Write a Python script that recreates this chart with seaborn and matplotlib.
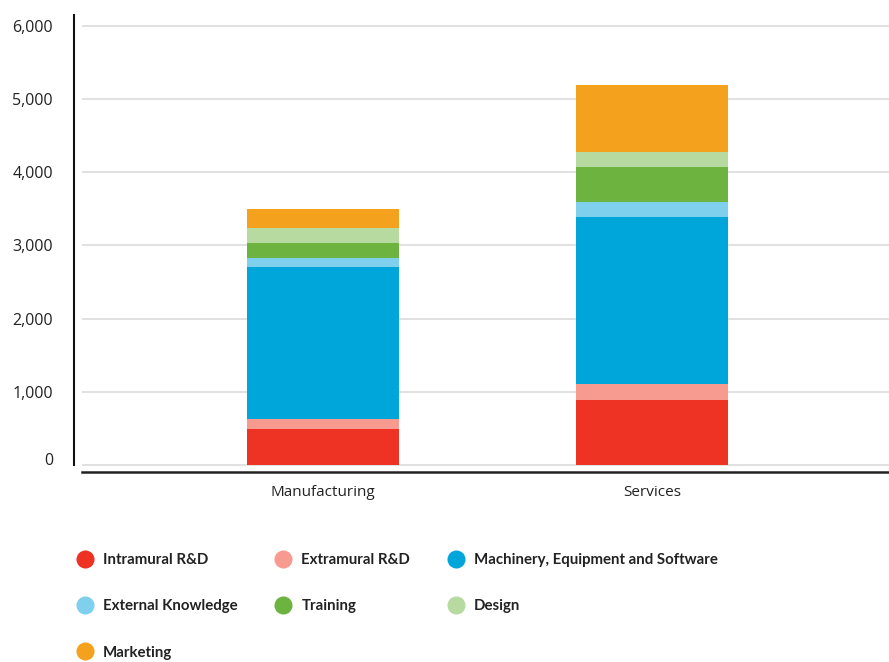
import matplotlib
matplotlib.use("Agg")
import matplotlib.pyplot as plt
from matplotlib.lines import Line2D
import numpy as np
import pandas as pd
import seaborn as sns

# Innovation expenditure by sector, stacked by type of activity
categories = ["Manufacturing", "Services"]
series_names = [
    "Intramural R&D",
    "Extramural R&D",
    "Machinery, Equipment and Software",
    "External Knowledge",
    "Training",
    "Design",
    "Marketing",
]
intramural = [490, 890]
extramural = [135, 220]
machinery = [2075, 2280]
external_knowledge = [125, 205]
training = [205, 480]
design = [205, 205]
marketing = [260, 915]
y_ticks = [0, 1000, 2000, 3000, 4000, 5000, 6000]

colors = ["#EE3224", "#F79B91", "#00A6DA", "#7FD0EC", "#6CB33F", "#B6DAA0", "#F4A11D"]

values = [intramural, extramural, machinery, external_knowledge, training, design, marketing]
df = pd.DataFrame(np.array(values).T, columns=series_names)
df["Sector"] = categories
cum = df[series_names].cumsum(axis=1)

sns.set_theme(style="white")
plt.rcParams["font.family"] = ["Open Sans", "DejaVu Sans"]

fig = plt.figure(figsize=(8.89, 6.62), dpi=100)
ax = fig.add_axes([82 / 889, 1 - 472 / 662, 1 - 82 / 889, (472 - 15) / 662])

# layered cumulative bars, top segment first so lower ones sit over it
for name, color in reversed(list(zip(series_names, colors))):
    sns.barplot(x=df["Sector"], y=cum[name], color=color, saturation=1,
                width=0.462, ax=ax, zorder=3, linewidth=0)

ax.set_xlim(-0.733, 1.72)
ax.set_ylim(-95.6, 6146)
ax.set_yticks(y_ticks)
ax.set_yticklabels([f"{v:,}" for v in y_ticks])
ax.set_xlabel("")
ax.set_ylabel("")

ax.grid(axis="y", color="#d9d9d9", linewidth=1.1, zorder=0)
ax.grid(axis="x", visible=False)
ax.get_ygridlines()[0].set_visible(False)
ax.set_axisbelow(True)

for side in ["top", "right"]:
    ax.spines[side].set_visible(False)
ax.spines["left"].set_position(("outward", 5.8))
ax.spines["left"].set_bounds(0, 6146)
ax.spines["left"].set_color("#111111")
ax.spines["left"].set_linewidth(1.5)
ax.spines["bottom"].set_color("#222222")
ax.spines["bottom"].set_linewidth(1.8)

ax.tick_params(axis="y", length=0, pad=15, labelsize=11.5, labelcolor="#222222")
ax.tick_params(axis="x", length=0, pad=9.5, labelsize=11, labelcolor="#222222")
# the zero label sits on the baseline
ax.get_yticklabels()[0].set_verticalalignment("baseline")

# legend, filled column-wise so it reads row by row
order = [0, 3, 6, 1, 4, 2, 5]
handles = [Line2D([], [], marker="o", linestyle="", markersize=13,
                  markerfacecolor=colors[i], markeredgewidth=0) for i in order]
labels = [series_names[i] for i in order]
fig.legend(handles, labels, loc="upper left",
           bbox_to_anchor=(76 / 889, 1 - 553 / 662), ncol=3, frameon=False,
           prop={"family": "Lato", "weight": "bold", "size": 10.8},
           handlelength=1.2, handletextpad=0.6, columnspacing=2.45,
           labelspacing=2.15, borderpad=0, borderaxespad=0, labelcolor="#222222")

fig.savefig("out.png", dpi=100)
